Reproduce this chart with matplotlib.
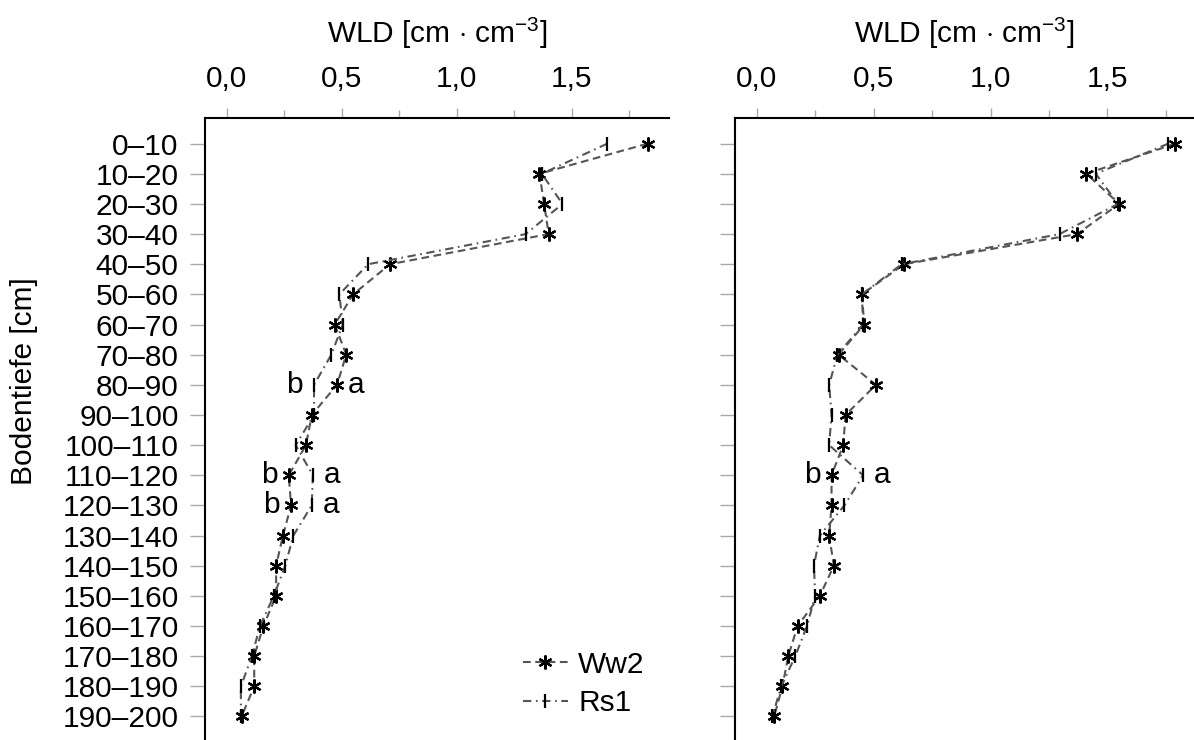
import matplotlib
matplotlib.use("Agg")
import matplotlib.pyplot as plt
from matplotlib.ticker import FixedLocator, FuncFormatter

plt.rcParams['font.family'] = ['Liberation Sans', 'DejaVu Sans']
plt.rcParams['mathtext.fontset'] = 'custom'
plt.rcParams['mathtext.rm'] = 'Liberation Sans'
plt.rcParams['mathtext.it'] = 'Liberation Sans:italic'
plt.rcParams['mathtext.bf'] = 'Liberation Sans:bold'

# depth classes (cm)
depths = ['0–10', '10–20', '20–30', '30–40', '40–50', '50–60', '60–70', '70–80',
          '80–90', '90–100', '100–110', '110–120', '120–130', '130–140',
          '140–150', '150–160', '160–170', '170–180', '180–190', '190–200']

# WLD values, left panel
ww2_left = [1.83, 1.36, 1.38, 1.40, 0.71, 0.55, 0.47, 0.52, 0.48, 0.37,
            0.345, 0.27, 0.28, 0.245, 0.215, 0.215, 0.16, 0.12, 0.12, 0.065]
rs1_left = [1.655, 1.37, 1.46, 1.30, 0.615, 0.49, 0.505, 0.455, 0.38, 0.38,
            0.30, 0.375, 0.37, 0.29, 0.255, 0.205, 0.145, 0.11, 0.062, 0.062]

# WLD values, right panel
ww2_right = [1.79, 1.41, 1.55, 1.37, 0.63, 0.45, 0.46, 0.35, 0.51, 0.38,
             0.37, 0.32, 0.32, 0.31, 0.33, 0.27, 0.175, 0.135, 0.11, 0.075]
rs1_right = [1.76, 1.45, 1.545, 1.295, 0.62, 0.45, 0.455, 0.345, 0.31, 0.32,
             0.31, 0.455, 0.375, 0.27, 0.245, 0.25, 0.215, 0.165, 0.105, 0.067]

# significance letters: (row, letter at smaller value, letter at larger value)
letters_left = [(8, 'b', 'a'), (11, 'b', 'a'), (12, 'b', 'a')]
letters_right = [(11, 'b', 'a')]

xticks_major = [0.0, 0.5, 1.0, 1.5]
xticks_minor = [0.25, 0.75, 1.25, 1.75]

fig = plt.figure(figsize=(11.94, 7.40), dpi=100)
ax1 = fig.add_axes([205 / 1194, 0.0, 464 / 1194, 622 / 740])
ax2 = fig.add_axes([734.7 / 1194, 0.0, 459.3 / 1194, 622 / 740])

line_col = '#555555'
fs = 21.5


def draw_panel(ax, ww2, rs1, letters, xmax, show_labels):
    rows = list(range(len(depths)))
    ax.plot(ww2, rows, color=line_col, lw=1.5, ls=(0, (3.7, 2.2)),
            marker=(6, 2, 0), ms=10, mew=1.6, mec='black', mfc='black', label='Ww2')
    ax.plot(rs1, rows, color=line_col, lw=1.5, ls=(0, (4, 2.2, 0.8, 2.2)),
            marker='|', ms=10, mew=1.6, mec='black', label='Rs1')
    for row, lo, hi in letters:
        a, b = ww2[row], rs1[row]
        ax.annotate(lo, (min(a, b), row), xytext=(-14, 0), textcoords='offset points',
                    ha='center', va='center', fontsize=fs)
        ax.annotate(hi, (max(a, b), row), xytext=(14, 0), textcoords='offset points',
                    ha='center', va='center', fontsize=fs)

    ax.set_ylim(19.78, -0.85)
    ax.set_xlim(-0.094, xmax)
    ax.set_yticks(rows)
    if show_labels:
        ax.set_yticklabels(depths, fontsize=fs)
    else:
        ax.set_yticklabels([])
    ax.xaxis.tick_top()
    ax.xaxis.set_label_position('top')
    ax.xaxis.set_major_locator(FixedLocator(xticks_major))
    ax.xaxis.set_minor_locator(FixedLocator(xticks_minor))
    ax.xaxis.set_major_formatter(FuncFormatter(lambda v, p: f'{v:.1f}'.replace('.', ',')))
    ax.tick_params(axis='x', which='major', length=7, width=1, color='#aaaaaa',
                   pad=11, labelsize=fs)
    ax.tick_params(axis='x', which='minor', length=6, width=1, color='#aaaaaa')
    ax.tick_params(axis='y', which='major', length=11, width=1, color='#aaaaaa',
                   pad=8, labelsize=fs)
    for s in ['right', 'bottom']:
        ax.spines[s].set_visible(False)
    for s in ['left', 'top']:
        ax.spines[s].set_linewidth(1.5)
        ax.spines[s].set_color('black')
    ax.set_xlabel(r'WLD [cm $\cdot$ cm$^{-3}$]', fontsize=fs, labelpad=16)


draw_panel(ax1, ww2_left, rs1_left, letters_left, 1.923, True)
draw_panel(ax2, ww2_right, rs1_right, letters_right, 1.87, False)

ax1.set_ylabel('Bodentiefe [cm]', fontsize=fs)
ax1.yaxis.set_label_coords(-0.36, 0.577)

ax1.legend(loc='center left', bbox_to_anchor=(0.685, 0.09), frameon=False,
           fontsize=fs, handlelength=1.5, handletextpad=0.35, labelspacing=0.35,
           borderpad=0, borderaxespad=0)

fig.savefig('out.png', dpi=100)
